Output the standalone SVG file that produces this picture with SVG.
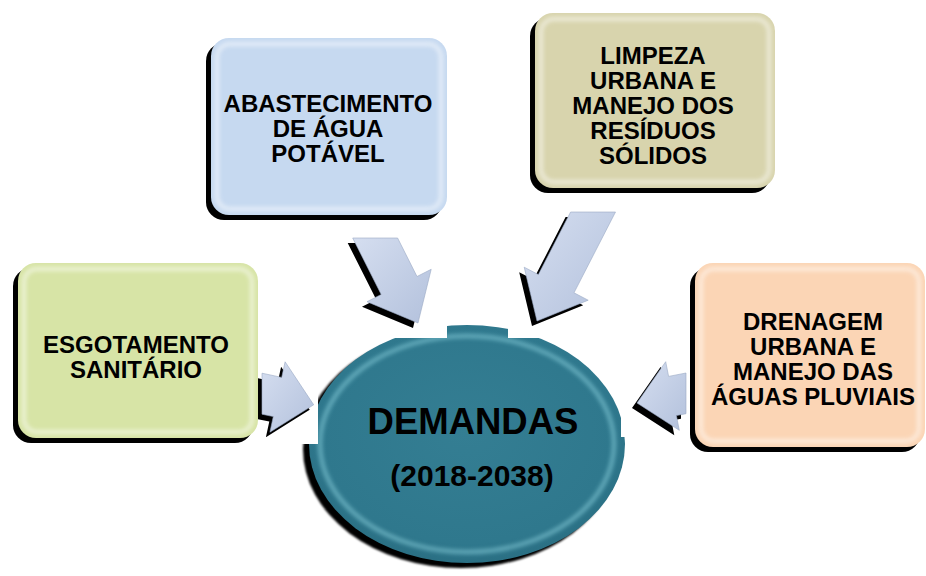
<svg xmlns="http://www.w3.org/2000/svg" width="926" height="576" viewBox="0 0 926 576">
<defs>
<filter id="blur2" x="-20%" y="-20%" width="140%" height="140%"><feGaussianBlur stdDeviation="2"/></filter>
<filter id="blur1" x="-20%" y="-20%" width="140%" height="140%"><feGaussianBlur stdDeviation="1"/></filter>
<linearGradient id="arrowGrad" x1="0" y1="0" x2="1" y2="1">
<stop offset="0" stop-color="#d5def0"/><stop offset="1" stop-color="#b3c1dc"/>
</linearGradient>
<radialGradient id="ellGrad" cx="0.5" cy="0.45" r="0.55">
<stop offset="0" stop-color="#347e93"/><stop offset="0.85" stop-color="#2f788d"/><stop offset="1" stop-color="#2a6f83"/>
</radialGradient>
</defs>
<style>
.lbl{font-family:"Liberation Sans",Arial,sans-serif;font-weight:bold;font-size:24px;text-anchor:middle;fill:#000}
.shadow{fill:#000}
.bevel{fill:none;stroke:#fff;stroke-width:4;opacity:0.55}
.arrow{fill:url(#arrowGrad);stroke:#9aa9c4;stroke-width:0.6}
.bg{fill:#fff}
</style>

<g id="demandas">
<ellipse class="shadow" cx="461" cy="449" rx="158" ry="119" filter="url(#blur1)"/>
<ellipse cx="467" cy="444" rx="158" ry="119" fill="url(#ellGrad)"/>
<ellipse cx="467" cy="444" rx="147" ry="108" fill="none" stroke="#8fd6e2" stroke-width="4" opacity="0.6" filter="url(#blur2)"/>
<text x="473" y="434" font-family="Liberation Sans, Arial, sans-serif" font-weight="bold" font-size="36.5" text-anchor="middle" fill="#000">DEMANDAS</text>
<text x="472" y="486" font-family="Liberation Sans, Arial, sans-serif" font-weight="bold" font-size="30" text-anchor="middle" fill="#000">(2018-2038)</text>
</g>

<g id="connectors">
<rect class="bg" x="340" y="222" width="107" height="116"/>
<rect class="bg" x="508" y="198" width="120" height="140"/>
<rect class="bg" x="250" y="350" width="68" height="94"/>
<rect class="bg" x="621" y="330" width="69" height="107"/>
<g id="arrow-abastecimento">
<polygon class="shadow" transform="translate(-5,5)" points="352.7,238 397.6,238 417,276.5 431.2,269.3 418,323 367,301.7 381.2,294.5"/>
<polygon class="arrow" points="352.7,238 397.6,238 417,276.5 431.2,269.3 418,323 367,301.7 381.2,294.5"/>
</g>
<g id="arrow-limpeza">
<polygon class="shadow" transform="translate(-5,5)" points="570.6,212 615.5,212 574,292.8 588.2,300.2 537,321 524.2,267.2 538.4,274.6"/>
<polygon class="arrow" points="570.6,212 615.5,212 574,292.8 588.2,300.2 537,321 524.2,267.2 538.4,274.6"/>
</g>
<g id="arrow-esgotamento">
<polygon class="shadow" transform="translate(-4,5)" points="262,373.2 281.7,377.4 285.1,361.8 313.7,404.8 269.9,432.2 273.3,416.6 262,414.2"/>
<polygon class="arrow" points="262,373.2 281.7,377.4 285.1,361.8 313.7,404.8 269.9,432.2 273.3,416.6 262,414.2"/>
</g>
<g id="arrow-drenagem">
<polygon class="shadow" transform="translate(-5,5)" points="686,373 668.6,376.4 665.7,361.7 637,403 679.3,430.3 676.4,415.6 686,413.7"/>
<polygon class="arrow" points="686,373 668.6,376.4 665.7,361.7 637,403 679.3,430.3 676.4,415.6 686,413.7"/>
</g>
</g>

<g id="box-abastecimento">
<rect class="shadow" x="206" y="43" width="236" height="177" rx="18"/>
<rect x="211" y="38" width="236" height="177" rx="18" fill="#c6d9f0"/>
<rect class="bevel" x="217" y="44" width="224" height="165" rx="13" filter="url(#blur2)"/>
<text class="lbl" x="328" y="112">ABASTECIMENTO</text>
<text class="lbl" x="328" y="137">DE ÁGUA</text>
<text class="lbl" x="328" y="162">POTÁVEL</text>
</g>

<g id="box-limpeza">
<rect class="shadow" x="530" y="18" width="240" height="175" rx="18"/>
<rect x="535" y="13" width="240" height="175" rx="18" fill="#d8d4ad"/>
<rect class="bevel" x="541" y="19" width="228" height="163" rx="13" filter="url(#blur2)"/>
<text class="lbl" x="653" y="64">LIMPEZA</text>
<text class="lbl" x="653" y="89">URBANA E</text>
<text class="lbl" x="653" y="114">MANEJO DOS</text>
<text class="lbl" x="653" y="139">RESÍDUOS</text>
<text class="lbl" x="653" y="164">SÓLIDOS</text>
</g>

<g id="box-esgotamento">
<rect class="shadow" x="13" y="268" width="240" height="175" rx="18"/>
<rect x="18" y="263" width="240" height="175" rx="18" fill="#d7e4a6"/>
<rect class="bevel" x="24" y="269" width="228" height="163" rx="13" filter="url(#blur2)"/>
<text class="lbl" x="136" y="353">ESGOTAMENTO</text>
<text class="lbl" x="136" y="378">SANITÁRIO</text>
</g>

<g id="box-drenagem">
<rect class="shadow" x="690" y="268" width="230" height="184" rx="18"/>
<rect x="695" y="263" width="230" height="184" rx="18" fill="#fbd5b5"/>
<rect class="bevel" x="701" y="269" width="218" height="172" rx="13" filter="url(#blur2)"/>
<text class="lbl" x="813" y="330">DRENAGEM</text>
<text class="lbl" x="813" y="355">URBANA E</text>
<text class="lbl" x="813" y="380">MANEJO DAS</text>
<text class="lbl" x="813" y="405">ÁGUAS PLUVIAIS</text>
</g>
</svg>
